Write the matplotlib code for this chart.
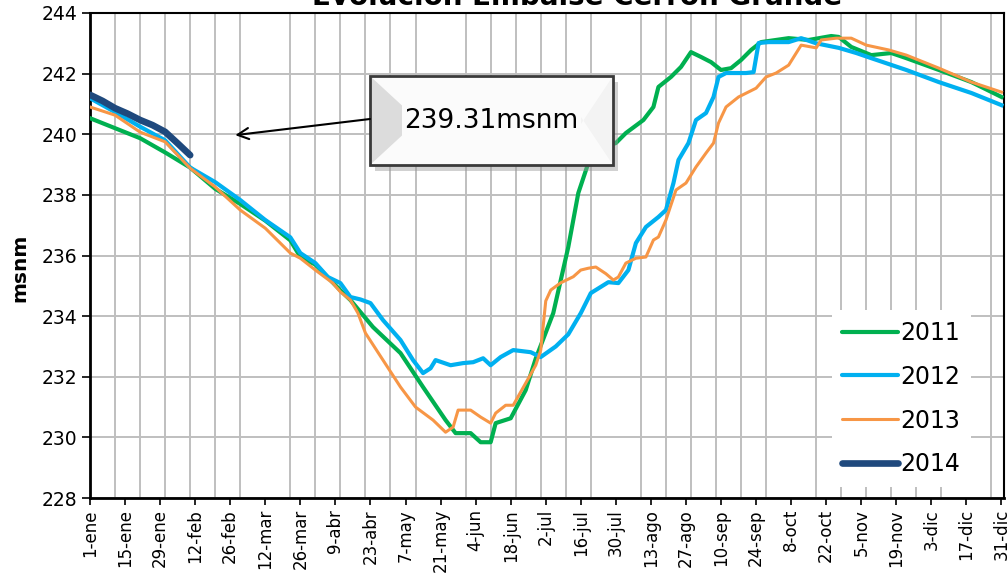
import matplotlib
matplotlib.use('Agg')
import matplotlib.pyplot as plt
from matplotlib.patches import Rectangle, Polygon

# dia del año (0 = 1-ene) y nivel del embalse [msnm]
dias_2011  = [0, 10, 20, 30, 40, 50, 60, 70, 80, 84, 90, 100, 104, 113, 124, 133, 142, 146, 152,
              156, 160, 162, 168, 174, 178, 185, 191, 195, 199, 205, 210, 214, 221, 225, 227, 232,
              236, 240, 244, 248, 252, 256, 260, 264, 268, 279, 287, 296, 299, 304, 312, 320, 326,
              339, 352, 364]
nivel_2011 = [240.53, 240.20, 239.87, 239.40, 238.90, 238.20, 237.70, 237.15, 236.50, 235.95, 235.70,
              234.85, 234.53, 233.64, 232.78, 231.66, 230.57, 230.14, 230.14, 229.84, 229.84, 230.47,
              230.63, 231.56, 232.60, 234.10, 236.28, 238.06, 239.05, 239.58, 239.71, 240.04, 240.47,
              240.90, 241.56, 241.89, 242.22, 242.71, 242.55, 242.38, 242.12, 242.18, 242.45, 242.78,
              243.04, 243.17, 243.11, 243.24, 243.21, 242.88, 242.61, 242.68, 242.51, 242.12, 241.72,
              241.23]

dias_2012  = [0, 10, 20, 30, 40, 50, 60, 70, 80, 84, 90, 95, 100, 104, 108, 112, 117, 124, 129, 133,
              136, 138, 144, 149, 153, 157, 160, 164, 169, 176, 180, 186, 191, 196, 200, 207, 211,
              215, 218, 222, 227, 230, 233, 235, 239, 242, 246, 249, 251, 254, 262, 265, 267, 271,
              279, 284, 290, 299, 306, 312, 326, 339, 352, 364]
nivel_2012 = [241.19, 240.73, 240.25, 239.80, 238.90, 238.42, 237.83, 237.17, 236.60, 236.08, 235.75,
              235.29, 235.09, 234.63, 234.55, 234.43, 233.87, 233.21, 232.55, 232.12, 232.28, 232.55,
              232.38, 232.45, 232.48, 232.61, 232.38, 232.65, 232.88, 232.81, 232.65, 233.00, 233.40,
              234.10, 234.76, 235.12, 235.09, 235.52, 236.41, 236.94, 237.27, 237.50, 238.39, 239.15,
              239.71, 240.47, 240.70, 241.23, 241.89, 242.02, 242.02, 242.05, 243.01, 243.04, 243.04,
              243.17, 243.00, 242.85, 242.68, 242.51, 242.12, 241.72, 241.36, 240.96]

dias_2013  = [0, 10, 20, 30, 40, 50, 60, 70, 80, 84, 90, 97, 100, 104, 107, 110, 117, 124, 130, 137,
              142, 145, 147, 152, 156, 160, 162, 166, 169, 174, 178, 180, 182, 184, 188, 193, 196,
              199, 202, 206, 209, 211, 214, 218, 222, 225, 227, 230, 234, 238, 242, 246, 249, 251,
              254, 259, 266, 270, 274, 279, 284, 290, 292, 298, 304, 310, 319, 326, 339, 352, 364]
nivel_2013 = [240.90, 240.63, 240.07, 239.75, 238.88, 238.26, 237.50, 236.90, 236.08, 235.91, 235.52,
              235.09, 234.80, 234.53, 234.10, 233.44, 232.55, 231.66, 231.00, 230.57, 230.17, 230.34,
              230.90, 230.90, 230.67, 230.47, 230.80, 231.06, 231.06, 231.79, 232.38, 232.88, 234.50,
              234.86, 235.10, 235.30, 235.52, 235.58, 235.62, 235.40, 235.19, 235.29, 235.75, 235.91,
              235.95, 236.51, 236.61, 237.17, 238.16, 238.39, 238.92, 239.38, 239.71, 240.37, 240.90,
              241.23, 241.52, 241.89, 242.02, 242.28, 242.94, 242.85, 243.11, 243.17, 243.17, 242.94,
              242.78, 242.61, 242.18, 241.72, 241.39]

dias_2014  = [0, 5, 10, 15, 20, 25, 30, 35, 40]
nivel_2014 = [241.30, 241.10, 240.86, 240.68, 240.47, 240.30, 240.08, 239.70, 239.31]

etiquetas_x = ['1-ene', '15-ene', '29-ene', '12-feb', '26-feb', '12-mar', '26-mar', '9-abr',
               '23-abr', '7-may', '21-may', '4-jun', '18-jun', '2-jul', '16-jul', '30-jul',
               '13-ago', '27-ago', '10-sep', '24-sep', '8-oct', '22-oct', '5-nov', '19-nov',
               '3-dic', '17-dic', '31-dic']
ultimo_valor = 239.31

plt.rcParams['font.family'] = 'DejaVu Sans'

fig = plt.figure(figsize=(10.08, 5.77), dpi=100)
ax = fig.add_axes([90/1008, 79/577, 914/1008, 485/577])

ax.plot(dias_2011, nivel_2011, color='#00B050', lw=3.0, label='2011', zorder=3)
ax.plot(dias_2012, nivel_2012, color='#00B0F0', lw=3.0, label='2012', zorder=3)
ax.plot(dias_2013, nivel_2013, color='#F79646', lw=2.2, label='2013', zorder=3)
ax.plot(dias_2014, nivel_2014, color='#1F497D', lw=4.8, label='2014', zorder=4,
        solid_capstyle='round')

ax.set_xlim(0, 365)
ax.set_ylim(228, 244)
ax.set_yticks(range(228, 245, 2))
ax.set_xticks(range(0, 365, 14))
ax.set_xticklabels(etiquetas_x, rotation=90, fontsize=12)
ax.set_xticks(range(10, 365, 10), minor=True)
ax.tick_params(axis='y', labelsize=13.5, length=6, width=1.2, pad=3)
ax.tick_params(axis='x', which='major', length=5, width=1.2, pad=3)
ax.tick_params(axis='x', which='minor', length=0)
ax.grid(axis='y', color='#BFBFBF', lw=1.4, zorder=0)
ax.grid(axis='x', which='minor', color='#BFBFBF', lw=1.4, zorder=0)
ax.set_axisbelow(True)
for s in ['left', 'bottom']:
    ax.spines[s].set_linewidth(2.0)
for s in ['top', 'right']:
    ax.spines[s].set_linewidth(1.5)

fig.text(577/1008, 1 - 5/577, 'Evolución Embalse Cerrón Grande', ha='center',
         va='baseline', fontsize=20, fontweight='bold')
fig.text(20/1008, 1 - 268/577, 'msnm', rotation=90, ha='center', va='center',
         fontsize=14.5, fontweight='bold')

leg = ax.legend(loc='lower right', bbox_to_anchor=((971 - 90)/914, (498 - 487)/485),
                borderaxespad=0, fontsize=17, frameon=True, fancybox=False,
                edgecolor='none', facecolor='white', framealpha=1,
                handlelength=2.35, handletextpad=0.12, labelspacing=0.84, borderpad=0.45)
for ln in leg.get_lines():
    ln.set_solid_capstyle('round')

# cuadro con bisel para el ultimo valor
x0, x1 = (370 - 90)/914, (613 - 90)/914
y0, y1 = (498 - 165)/485, (498 - 76)/485
bx = 32/914
by = 30/485
tr = ax.transAxes
ax.add_patch(Rectangle((x0 + 5/914, y0 - 6/485), x1 - x0, y1 - y0, transform=tr,
                       fc='#9A9A9A', ec='none', alpha=0.45, zorder=5))
ax.add_patch(Rectangle((x0, y0), x1 - x0, y1 - y0, transform=tr, fc='#FBFBFB',
                       ec='none', zorder=6))
ax.add_patch(Polygon([(x0, y0), (x0, y1), (x0 + bx, (y0 + y1)/2 + by/2),
                      (x0 + bx, (y0 + y1)/2 - by/2)], closed=True, transform=tr,
                     fc='#DCDCDC', ec='none', zorder=6))
ax.add_patch(Polygon([(x1, y0), (x1, y1), (x1 - bx, y1 - by*1.6), (x1 - bx, y0 + by*1.6)],
                     closed=True, transform=tr, fc='#F3F3F3', ec='none', zorder=6))
ax.add_patch(Rectangle((x0, y0), x1 - x0, y1 - y0, transform=tr, fc='none',
                       ec='#3A3A3A', lw=2.0, zorder=7))
ax.text((x0 + x1)/2, (y0 + y1)/2, f'{ultimo_valor:.2f}msnm', transform=tr, ha='center',
        va='center', fontsize=19, zorder=8)
ax.annotate('', xy=(58, 239.97), xycoords='data', xytext=(x0, (498 - 119)/485),
            textcoords='axes fraction',
            arrowprops=dict(arrowstyle='->,head_length=0.8,head_width=0.4', color='black',
                            lw=1.5, shrinkA=0, shrinkB=0), zorder=8)

fig.savefig('out.png', dpi=100)
